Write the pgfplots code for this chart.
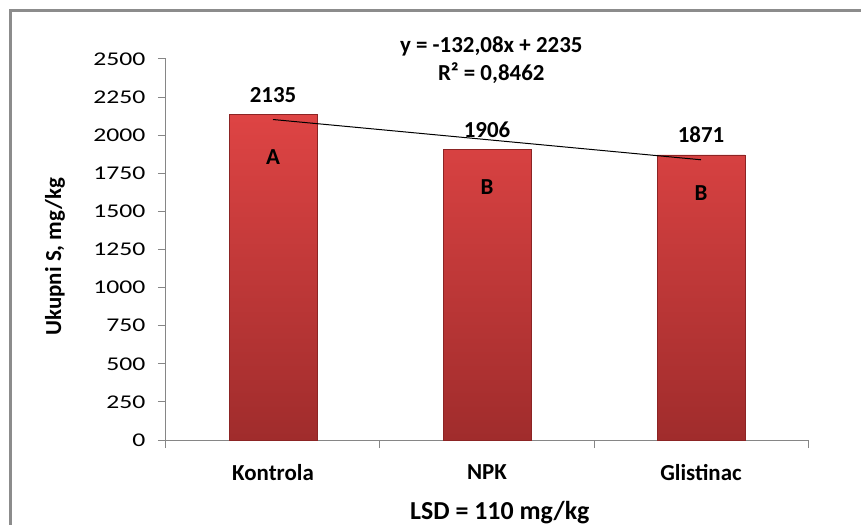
\documentclass[border=0pt]{standalone}
\usepackage{fontspec}
\setmainfont{Carlito}
\newfontfamily\tickfont{Carlito}[FakeStretch=1.32]
\usepackage{pgfplots}
\pgfplotsset{compat=1.18}

\definecolor{bartop}{RGB}{222,68,68}
\definecolor{barbottom}{RGB}{160,44,44}
\definecolor{bardraw}{RGB}{140,36,36}
\definecolor{axisgray}{RGB}{134,134,134}
\definecolor{framegray}{RGB}{140,140,140}

\begin{document}
\begin{tikzpicture}
\useasboundingbox (-166bp,-85bp) rectangle (695bp,440bp);
% outer chart frame (right and bottom edges fall outside the picture)
\draw[framegray, line width=3bp] (-155.5bp,-120bp) -- (-155.5bp,429.5bp) -- (740bp,429.5bp);

\begin{axis}[
    scale only axis,
    width=642bp, height=381bp,
    at={(0,0)}, anchor=south west,
    xmin=-0.5, xmax=2.5,
    ymin=0, ymax=2500,
    axis x line*=bottom, axis y line*=left,
    axis line style={draw=axisgray, line width=1bp, -},
    tick style={draw=axisgray, line width=1bp},
    tick align=outside,
    major tick length=8bp,
    ytick={0,250,...,2500},
    xtick={-0.5,0.5,1.5,2.5},
    xticklabels={,,,},
    extra x ticks={0,1,2},
    extra x tick labels={Kontrola,NPK,Glistinac},
    extra x tick style={major tick length=0pt},
    /pgf/number format/assume math mode=true,
    /pgf/number format/1000 sep=,
    yticklabel style={font=\tickfont\fontsize{19.5}{20}\selectfont, xshift=-9bp},
    xticklabel style={font=\bfseries\fontsize{23}{24}\selectfont, yshift=-21bp},
    ylabel={Ukupni S, mg/kg},
    ylabel style={at={(axis description cs:-0.1729,0.481)}, anchor=center,
                  font=\bfseries\fontsize{23}{24}\selectfont},
    clip=false,
]
\addplot[ybar, bar width=0.41, draw=bardraw, line width=0.6bp,
         top color=bartop, bottom color=barbottom,
         nodes near coords,
         nodes near coords style={anchor=center, yshift=20bp, black,
                                  font=\bfseries\fontsize{23}{24}\selectfont}]
    coordinates {(0,2135) (1,1906) (2,1871)};

% significance letters inside the bars
\addplot[draw=none, nodes near coords, point meta=explicit symbolic,
         nodes near coords style={anchor=center, black,
                                  font=\bfseries\fontsize{23}{24}\selectfont}]
    coordinates {(0,1857)[A] (1,1660)[B] (2,1621)[B]};

% linear trend y = -132,08x + 2235
\addplot[black, line width=1bp] coordinates {(0,2102.92) (2,1838.76)};

\node[font=\bfseries\fontsize{23}{24}\selectfont] at (axis cs:1.02,2585) {y = -132,08x + 2235};
\node[font=\bfseries\fontsize{23}{24}\selectfont] at (axis cs:1.02,2408) {R² = 0,8462};
\node[font=\bfseries\fontsize{26}{27}\selectfont] at (axis cs:1.06,-479) {LSD = 110 mg/kg};
\end{axis}
\end{tikzpicture}
\end{document}
